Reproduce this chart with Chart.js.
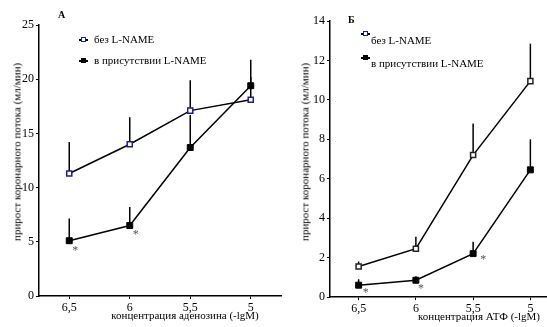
<!DOCTYPE html>
<html lang="ru">
<head>
<meta charset="utf-8"/>
<title>Прирост коронарного потока</title>
<script src="https://cdn.jsdelivr.net/npm/chart.js@4.4.3/dist/chart.umd.min.js"></script>
<style>
  * { box-sizing: border-box; }
  html, body { margin: 0; padding: 0; }
  body { width: 547px; height: 327px; overflow: hidden; background: #fff; position: relative;
         font-family: "Liberation Serif", "DejaVu Serif", serif; color: #000; }
  canvas { position: absolute; top: 0; }
  #cA { left: 0; }
  #cB { left: 280px; }
  .t { position: absolute; white-space: nowrap; font-size: 11px; line-height: 1; }
  .letter { font-weight: bold; font-size: 10px; }
  .ytitle { transform: translate(-50%, -50%) rotate(-90deg); }
  .xtitle { transform: translate(-50%, -50%); }
  .leg { position: absolute; height: 10px; }
  .leg .ln { position: absolute; left: 0; top: 4px; width: 9px; height: 1.5px; background: #000; }
  .leg .sq { position: absolute; left: 2px; top: 2px; width: 5px; height: 5px; }
  .sq.open { background: #fff; border: 1.5px solid #1c1c96; }
  .sq.fill { background: #000; }
</style>
</head>
<body>
<canvas id="cA" width="290" height="327"></canvas>
<canvas id="cB" width="300" height="327"></canvas>

<div class="t letter" style="left:58px;top:10px">А</div>
<div class="t letter" style="left:348px;top:15px">Б</div>

<div class="leg" style="left:79px;top:35px"><div class="ln"></div><div class="sq open"></div></div>
<div class="t" style="left:94px;top:34px">без L-NAME</div>
<div class="leg" style="left:79px;top:56px"><div class="ln"></div><div class="sq fill"></div></div>
<div class="t" style="left:94px;top:55px">в присутствии L-NAME</div>

<div class="leg" style="left:361px;top:29px"><div class="ln"></div><div class="sq open"></div></div>
<div class="t" style="left:371px;top:35px">без L-NAME</div>
<div class="leg" style="left:361px;top:53px"><div class="ln"></div><div class="sq fill"></div></div>
<div class="t" style="left:371px;top:58px">в присутствии L-NAME</div>

<div class="t ytitle" style="left:17px;top:152px">прирост коронарного потока (мл/мин)</div>
<div class="t ytitle" style="left:305px;top:152px">прирост коронарного потока (мл/мин)</div>
<div class="t xtitle" style="left:185px;top:315px">концентрация аденозина (-lgM)</div>
<div class="t xtitle" style="left:479px;top:316px">концентрация АТФ (-lgM)</div>

<script>
// concentrations (-lgM), shared by both panels
const categories = ['6,5', '6', '5,5', '5'];

// panel А: adenosine
const adenWithout = [11.3, 14.0, 17.1, 18.1];
const adenWithoutErr = [14.2, 16.5, 19.9, 20.2];
const adenWith = [5.1, 6.5, 13.7, 19.4];
const adenWithErr = [7.15, 8.2, 16.7, 21.8];
const adenStars = [true, true, false, false];
const adenYMax = 25, adenYStep = 5;

// panel Б: ATP
const atpWithout = [1.55, 2.45, 7.2, 10.95];
const atpWithoutErr = [1.8, 3.05, 8.8, 12.85];
const atpWith = [0.6, 0.85, 2.2, 6.45];
const atpWithErr = [0.9, 1.05, 2.8, 8.0];
const atpStars = [true, true, true, false];
const atpYMax = 14, atpYStep = 2;

const FONT = { family: '"Liberation Serif", "DejaVu Serif", serif', size: 12 };

// vertical error bars (upper side only), drawn under the markers
const errorBars = {
  id: 'errorBars',
  beforeDatasetsDraw(chart) {
    const { ctx, scales: { x, y } } = chart;
    ctx.save();
    ctx.strokeStyle = '#000';
    ctx.lineWidth = 1.5;
    chart.data.datasets.forEach((ds) => {
      (ds.errTop || []).forEach((top, i) => {
        const px = x.getPixelForValue(i);
        ctx.beginPath();
        ctx.moveTo(px, y.getPixelForValue(ds.data[i]));
        ctx.lineTo(px, y.getPixelForValue(top));
        ctx.stroke();
      });
    });
    ctx.restore();
  }
};

// significance asterisks next to the L-NAME points
const asterisks = {
  id: 'asterisks',
  afterDatasetsDraw(chart, args, opts) {
    const { ctx, scales: { x, y } } = chart;
    const ds = chart.data.datasets[1];
    ctx.save();
    ctx.fillStyle = '#555';
    ctx.font = '12px "Liberation Serif", serif';
    ctx.textAlign = 'center';
    ctx.textBaseline = 'middle';
    opts.flags.forEach((on, i) => {
      if (!on) return;
      const d = opts.offsets[i];
      ctx.fillText('*', x.getPixelForValue(i) + d[0], y.getPixelForValue(ds.data[i]) + d[1] + 2);
    });
    ctx.restore();
  }
};

function makeChart(id, without, withoutErr, withL, withLErr, stars, offsets, yMax, yStep, box, openColor) {
  return new Chart(document.getElementById(id), {
    type: 'line',
    data: {
      labels: categories,
      datasets: [
        { data: without, errTop: withoutErr, borderColor: '#000', borderWidth: 1.5,
          pointStyle: 'rect', pointRadius: 3.6, pointBackgroundColor: '#fff',
          pointBorderColor: openColor, pointBorderWidth: 1.5, tension: 0 },
        { data: withL, errTop: withLErr, borderColor: '#000', borderWidth: 1.5,
          pointStyle: 'rect', pointRadius: 4.2, pointBackgroundColor: '#000',
          pointBorderColor: '#000', pointBorderWidth: 1, tension: 0 }
      ]
    },
    options: {
      responsive: false,
      animation: false,
      events: [],
      layout: { padding: { top: box.top, right: box.right, left: 0, bottom: 0 } },
      plugins: { legend: { display: false }, tooltip: { enabled: false },
                 asterisks: { flags: stars, offsets } },
      scales: {
        x: {
          type: 'category', offset: true,
          grid: { drawOnChartArea: false, drawTicks: true, tickLength: 3, color: '#000', lineWidth: 1 },
          border: { display: true, color: '#000', width: 1.5 },
          ticks: { color: '#000', font: FONT, padding: 2, maxRotation: 0 },
          afterFit(s) { s.height = box.xh; }
        },
        y: {
          min: 0, max: yMax,
          grid: { drawOnChartArea: false, drawTicks: true, tickLength: 3, color: '#000', lineWidth: 1 },
          border: { display: true, color: '#000', width: 1.5 },
          ticks: { stepSize: yStep, color: '#000', font: FONT, padding: 2 },
          afterFit(s) { s.width = box.left; }
        }
      }
    },
    plugins: [errorBars, asterisks]
  });
}

makeChart('cA', adenWithout, adenWithoutErr, adenWith, adenWithErr, adenStars,
  [[6, 8], [6, 7], [0, 0], [0, 0]], adenYMax, adenYStep,
  { top: 25, right: 9, left: 39, xh: 31 }, '#1c1c96');

makeChart('cB', atpWithout, atpWithoutErr, atpWith, atpWithErr, atpStars,
  [[7, 6], [5, 7], [10, 4], [0, 0]], atpYMax, atpYStep,
  { top: 21, right: 21, left: 50, xh: 30 }, '#222');
</script>
</body>
</html>
